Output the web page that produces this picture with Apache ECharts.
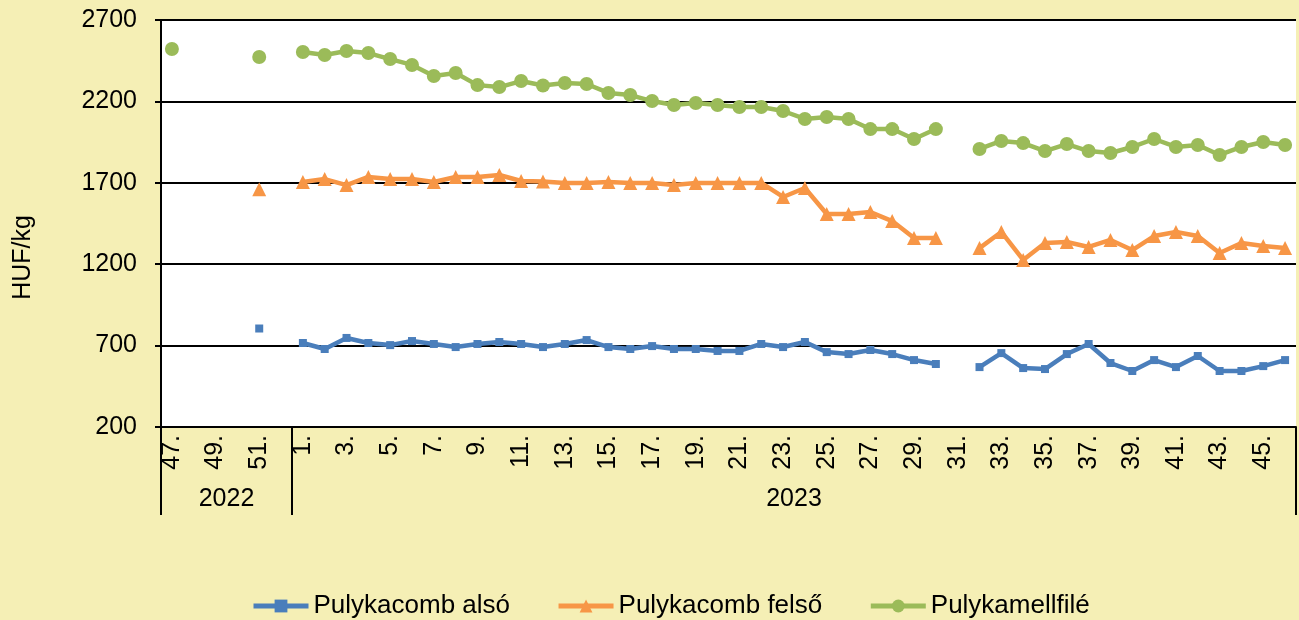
<!DOCTYPE html>
<html>
<head>
<meta charset="utf-8">
<script src="https://cdn.jsdelivr.net/npm/echarts@6/dist/echarts.min.js"></script>
<style>
  html, body { margin: 0; padding: 0; background: #F5EFB5; }
  #chart { width: 1299px; height: 620px; }
</style>
</head>
<body>
<div id="chart"></div>
<script>
// hét címkék (2022: 47-52, 2023: 1-46)
const weekLabels = [
  '47.', '48.', '49.', '50.', '51.', '52.',
  '1.', '2.', '3.', '4.', '5.', '6.', '7.', '8.', '9.', '10.',
  '11.', '12.', '13.', '14.', '15.', '16.', '17.', '18.', '19.', '20.',
  '21.', '22.', '23.', '24.', '25.', '26.', '27.', '28.', '29.', '30.',
  '31.', '32.', '33.', '34.', '35.', '36.', '37.', '38.', '39.', '40.',
  '41.', '42.', '43.', '44.', '45.', '46.'
]
const years = ['2022', '2023']
const yearWeekCounts = [6, 46]

const seriesNames = ['Pulykacomb alsó', 'Pulykacomb felső', 'Pulykamellfilé']

const combAlso = [
  null, null, null, null, 805, null,
  716, 679, 747, 716, 703, 728, 710, 691, 710, 722,
  710, 691, 710, 734, 691, 679, 697, 679, 679, 667,
  667, 710, 691, 722, 660, 648, 673, 648, 611, 587,
  null, 568, 654, 562, 556, 648, 710, 593, 544, 611,
  568, 636, 544, 544, 574, 611
]
const combFelso = [
  null, null, null, null, 1660, null,
  1705, 1723, 1686, 1736, 1723, 1723, 1705, 1736, 1736, 1748,
  1711, 1708, 1699, 1699, 1705, 1699, 1699, 1686, 1699, 1699,
  1699, 1699, 1613, 1668, 1508, 1508, 1520, 1465, 1361, 1361,
  null, 1299, 1398, 1226, 1330, 1336, 1306, 1349, 1287, 1373,
  1398, 1373, 1269, 1330, 1312, 1299
]
const mellfile = [
  2522, null, null, null, 2473, null,
  2503, 2485, 2510, 2497, 2460, 2424, 2356, 2374, 2300, 2288,
  2325, 2298, 2313, 2307, 2252, 2239, 2202, 2178, 2190, 2178,
  2166, 2166, 2141, 2092, 2104, 2092, 2030, 2030, 1969, 2030,
  null, 1908, 1957, 1944, 1895, 1938, 1895, 1883, 1920, 1969,
  1920, 1932, 1871, 1920, 1951, 1932
]

const colors = ['#4A7EBB', '#F79646', '#9BBB59']
const fontFamily = 'Liberation Sans, Arial, sans-serif'

// második szint (évek): fél-hetes osztás, a határokon vonal, középen az évszám
const groupSlots = []
const boundarySlots = new Set([0])
let pos = 0
years.forEach((y, i) => {
  const n = yearWeekCounts[i]
  for (let k = 0; k < n * 2; k++) {
    groupSlots[pos * 2 + k] = (k === n) ? y : ''
  }
  pos += n
  boundarySlots.add(pos * 2)
})
groupSlots[pos * 2] = ''

const chart = echarts.init(document.getElementById('chart'))

const makeLine = (name, data, color, symbol, size) => ({
  name: name,
  type: 'line',
  data: data,
  symbol: symbol,
  symbolSize: size,
  showSymbol: true,
  showAllSymbol: true,
  connectNulls: false,
  itemStyle: { color: color },
  lineStyle: { color: color, width: 4.5 },
  emphasis: { disabled: true }
})

const option = {
  animation: false,
  backgroundColor: '#F5EFB5',
  textStyle: { fontFamily: fontFamily, color: '#000' },
  grid: {
    left: 161,
    right: 1,
    top: 20,
    bottom: 193,
    show: true,
    backgroundColor: '#fff',
    borderWidth: 0
  },
  legend: {
    top: 593,
    left: 251,
    padding: 0,
    itemWidth: 55,
    itemHeight: 16,
    itemGap: 46,
    lineStyle: { width: 5 },
    textStyle: { fontSize: 26, color: '#000', fontFamily: fontFamily },
    data: seriesNames
  },
  xAxis: [
    {
      type: 'category',
      data: weekLabels,
      boundaryGap: true,
      axisLine: { lineStyle: { color: '#000', width: 2 } },
      axisTick: { show: false },
      axisLabel: {
        rotate: 90,
        interval: 1,
        margin: 8,
        fontSize: 25,
        color: '#000'
      }
    },
    {
      type: 'category',
      data: groupSlots,
      boundaryGap: false,
      position: 'bottom',
      axisLine: { show: false },
      axisTick: {
        show: true,
        length: 88,
        interval: (idx) => boundarySlots.has(idx),
        lineStyle: { color: '#000', width: 2 }
      },
      axisLabel: {
        interval: 0,
        margin: 60,
        fontSize: 25,
        color: '#000'
      },
      splitLine: { show: false }
    }
  ],
  yAxis: {
    type: 'value',
    min: 200,
    max: 2700,
    interval: 500,
    name: 'HUF/kg',
    nameLocation: 'middle',
    nameGap: 125,
    nameRotate: 90,
    nameTextStyle: { fontSize: 25, color: '#000', padding: [0, 68, 0, 0] },
    axisLine: { show: true, lineStyle: { color: '#000', width: 2 } },
    axisTick: { show: true, length: 6, lineStyle: { color: '#000', width: 2 } },
    axisLabel: { fontSize: 25, color: '#000', margin: 24, formatter: (v) => String(v) },
    splitLine: { lineStyle: { color: '#000', width: 2 } }
  },
  series: [
    makeLine(seriesNames[0], combAlso, colors[0], 'rect', 8),
    makeLine(seriesNames[1], combFelso, colors[1], 'triangle', 14),
    makeLine(seriesNames[2], mellfile, colors[2], 'circle', 14)
  ]
}

chart.setOption(option)
</script>
</body>
</html>
